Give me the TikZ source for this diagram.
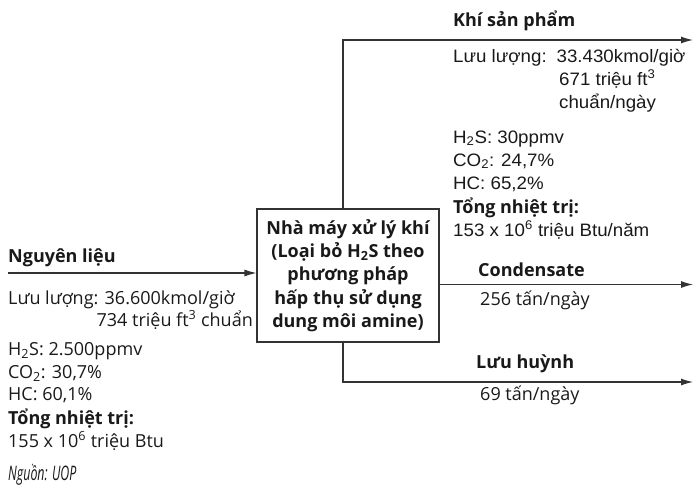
\documentclass[tikz,border=0pt]{standalone}
\usepackage{fontspec}
\setmainfont{Open Sans}
\newfontfamily\arialface{Liberation Sans}[FakeStretch=1.04]
\newfontfamily\notefont{Open Sans}[FakeStretch=0.62]
\usetikzlibrary{arrows.meta}
\begin{document}
\begin{tikzpicture}[x=1pt,y=-1pt,
  line/.style={draw=black!80, line width=1.1pt},
  flow/.style={line, -{Latex[length=12pt,width=7pt]}},
  txt/.style={anchor=base west, inner sep=0pt, text=black!90, font=\fontsize{18}{23}\selectfont},
  txtr/.style={txt, anchor=base east},
  atxt/.style={txt, font=\fontsize{18}{23}\selectfont\arialface},
  head/.style={txt, font=\fontsize{18}{23}\selectfont\bfseries},
  plantbox/.style={line, minimum width=182pt, minimum height=133pt, inner sep=0pt,
    align=center, text=black!90, font=\fontsize{18}{23.3}\selectfont\bfseries},
]
\useasboundingbox (0,0) rectangle (695,490);

% gas processing unit
\node[plantbox] (plant) at (348,275.5) {Nhà máy xử lý khí\\(Loại bỏ H\textsubscript{2}S theo\\phương pháp\\hấp thụ sử dụng\\dung môi amine)};

% stream end points
\coordinate (feed) at (8,273);
\coordinate (split) at (343,0);
\coordinate (gasout) at (693,40);
\coordinate (condout) at (693,284.5);
\coordinate (sulfout) at (693,382);

% connectors
\draw[flow] (feed) -- (feed -| plant.west);
\draw[flow] (plant.north -| split) |- (gasout);
\draw[flow] (plant.east |- condout) -- (condout);
\draw[flow] (plant.south -| split) |- (sulfout);

% feed stream data
\node[head] (feedhead) at (8,262) {Nguyên liệu};
\node[txt] (feedrate) at (8,304) {Lưu lượng: 36.600kmol/giờ};
\node[txtr] (feedvol) at (253,326) {734 triệu ft\textsuperscript{3} chuẩn};
\node[txt] (feedhs) at (8,355) {H\textsubscript{2}S: 2.500ppmv};
\node[txt] (feedco) at (8,378) {CO\textsubscript{2}: 30,7\%};
\node[txt] (feedhc) at (8,400) {HC: 60,1\%};
\node[head] (feedheat) at (8,424) {Tổng nhiệt trị:};
\node[txt] (feedheatv) at (8,447) {155 x 10\textsuperscript{6} triệu Btu};
\node[txt, font=\fontsize{20}{22}\selectfont\notefont\itshape] (source) at (8,480) {Nguồn: UOP};

% product gas data
\node[head] (gashead) at (453,26) {Khí sản phẩm};
\node[atxt] (gasrate) at (453,62) {Lưu lượng:\hspace{3pt} 33.430kmol/giờ};
\node[atxt] (gasvol) at (559,85) {671 triệu ft\textsuperscript{3}};
\node[atxt] (gasvol2) at (559,108) {chuẩn/ngày};
\node[atxt] (gashs) at (453,143) {H\textsubscript{2}S: 30ppmv};
\node[atxt] (gasco) at (453,166) {CO\textsubscript{2}: 24,7\%};
\node[atxt] (gashc) at (453,189) {HC: 65,2\%};
\node[head] (gasheat) at (453,213) {Tổng nhiệt trị:};
\node[atxt] (gasheatv) at (453,236) {153 x 10\textsuperscript{6} triệu Btu/năm};

% condensate and sulfur data
\node[head] (condhead) at (478,276) {Condensate};
\node[txt] (condv) at (480,305) {256 tấn/ngày};
\node[head] (sulfhead) at (476,368) {Lưu huỳnh};
\node[txt] (sulfv) at (480,400) {69 tấn/ngày};
\end{tikzpicture}
\end{document}
